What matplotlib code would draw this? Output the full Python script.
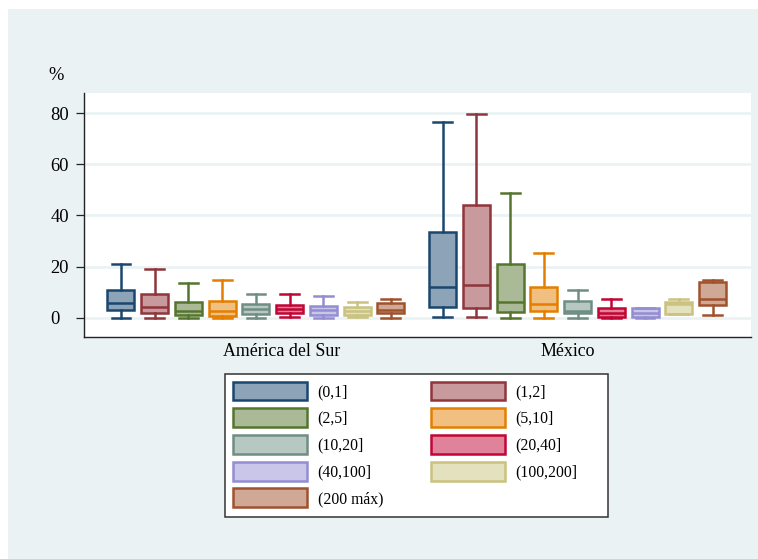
import matplotlib
matplotlib.use("Agg")
import matplotlib.pyplot as plt
from matplotlib.patches import Patch, Rectangle
from matplotlib import transforms
from matplotlib.colors import to_rgb

# Size classes (box colours follow this order)
categories = ["(0,1]", "(1,2]", "(2,5]", "(5,10]", "(10,20]",
              "(20,40]", "(40,100]", "(100,200]", "(200 máx)"]
groups = ["América del Sur", "México"]

# Box statistics (%) for América del Sur
sur_whislo = [0.0, 0.0, 0.0, 0.0, 0.0, 0.3, 0.0, 0.3, 0.0]
sur_q1     = [3.0, 1.8, 1.2, 0.5, 1.6, 1.8, 1.2, 0.9, 1.8]
sur_med    = [5.6, 4.2, 2.5, 2.7, 3.4, 3.4, 2.9, 2.5, 3.1]
sur_q3     = [10.7, 9.4, 6.1, 6.4, 5.3, 4.9, 4.4, 4.0, 5.7]
sur_whishi = [20.9, 19.1, 13.4, 14.8, 9.2, 9.2, 8.6, 6.1, 7.3]

# Box statistics (%) for México
mex_whislo = [0.3, 0.3, 0.0, 0.0, 0.0, 0.0, 0.0, 1.4, 1.2]
mex_q1     = [4.2, 3.8, 2.1, 2.6, 1.7, 0.4, 0.3, 1.4, 5.1]
mex_med    = [12.0, 12.7, 6.1, 5.5, 2.7, 1.7, 1.8, 5.4, 7.4]
mex_q3     = [33.4, 44.1, 20.9, 12.2, 6.4, 3.8, 3.9, 6.2, 13.8]
mex_whishi = [76.5, 79.9, 48.8, 25.2, 10.7, 7.3, 3.9, 7.3, 14.8]

yticks = [0, 20, 40, 60, 80]

edge_colors = ["#1A476F", "#90353B", "#55752F", "#E37E00", "#6E8E84",
               "#C10534", "#938DD2", "#CAC27E", "#A0522D"]


def lighten(c, f=0.5):
    r, g, b = to_rgb(c)
    return (r + (1 - r) * f, g + (1 - g) * f, b + (1 - b) * f)


fill_colors = [lighten(c) for c in edge_colors]

SERIF = "Liberation Serif"
BG = "#EAF2F3"
LW = 1.8
W, H = 758, 559

fig = plt.figure(figsize=(W / 100, H / 100), dpi=100, facecolor="white")
fig.patches.append(Rectangle((8 / W, 0), 1 - 8 / W, 1 - 9 / H,
                             transform=fig.transFigure, facecolor=BG,
                             edgecolor="none", zorder=-10))

ax = fig.add_axes([84 / W, 1 - 337.3 / H, (751 - 84) / W, (337.3 - 92.7) / H])
ax.set_facecolor("white")

group_offsets = [0.0, 9.53]
group_stats = [
    (sur_whislo, sur_q1, sur_med, sur_q3, sur_whishi),
    (mex_whislo, mex_q1, mex_med, mex_q3, mex_whishi),
]

for off, (wlo, q1, med, q3, whi) in zip(group_offsets, group_stats):
    stats = []
    for i in range(len(categories)):
        stats.append(dict(whislo=wlo[i], q1=q1[i], med=med[i], q3=q3[i],
                          whishi=whi[i], fliers=[]))
    positions = [off + i for i in range(len(categories))]
    art = ax.bxp(stats, positions=positions, widths=0.8, capwidths=0.56,
                 patch_artist=True, showfliers=False, manage_ticks=False,
                 zorder=3)
    for i, box in enumerate(art["boxes"]):
        box.set_facecolor(fill_colors[i])
        box.set_edgecolor(edge_colors[i])
        box.set_linewidth(LW)
    for i, m in enumerate(art["medians"]):
        m.set_color(edge_colors[i])
        m.set_linewidth(LW)
    for j, w in enumerate(art["whiskers"]):
        w.set_color(edge_colors[j // 2])
        w.set_linewidth(LW)
    for j, c in enumerate(art["caps"]):
        c.set_color(edge_colors[j // 2])
        c.set_linewidth(LW)

ax.set_xlim(-1.096, 18.67)
ax.set_ylim(-7.67, 88.06)

ax.set_yticks(yticks)
ax.set_yticklabels([str(v) for v in yticks], ha="left",
                   fontfamily=SERIF, fontsize=13.3)
ax.tick_params(axis="y", length=5.8, width=0.9, color="#222222",
               pad=18.2, labelcolor="black")
ax.set_xticks([])
ax.yaxis.grid(True, color=BG, linewidth=1.9, zorder=0)
ax.set_axisbelow(True)

for s in ("top", "right"):
    ax.spines[s].set_visible(False)
for s in ("left", "bottom"):
    ax.spines[s].set_color("#222222")
    ax.spines[s].set_linewidth(1.0)

# Group names under the axis
trans = transforms.blended_transform_factory(ax.transData, fig.transFigure)
group_label_x = [4.75, 13.23]
for gx, name in zip(group_label_x, groups):
    ax.text(gx, 1 - 356 / H, name, transform=trans, ha="center",
            va="baseline", fontfamily=SERIF, fontsize=12.9, clip_on=False)

fig.text(48 / W, 1 - 76 / H, "%", ha="left", va="center",
         fontfamily=SERIF, fontsize=13.3)

# Legend: row-wise order in two columns
order = [0, 2, 4, 6, 8, 1, 3, 5, 7]
handles = [Patch(facecolor=fill_colors[i], edgecolor=edge_colors[i],
                 linewidth=LW) for i in order]
labels = [categories[i] for i in order]
leg = fig.legend(handles, labels, ncol=2, loc="upper left",
                 bbox_to_anchor=(233.3 / W, 1 - 381.5 / H),
                 frameon=False, borderpad=0, borderaxespad=0,
                 handlelength=4.71, handleheight=1.485, labelspacing=0.49,
                 handletextpad=0.66, columnspacing=3.08,
                 prop={"family": SERIF, "size": 11.3})
fig.patches.append(Rectangle((225.3 / W, 1 - 517.3 / H),
                             (608 - 225.3) / W, (517.3 - 374.3) / H,
                             transform=fig.transFigure, facecolor="white",
                             edgecolor="#333333", linewidth=1.1, zorder=-5))

fig.savefig("out.png", dpi=100)
